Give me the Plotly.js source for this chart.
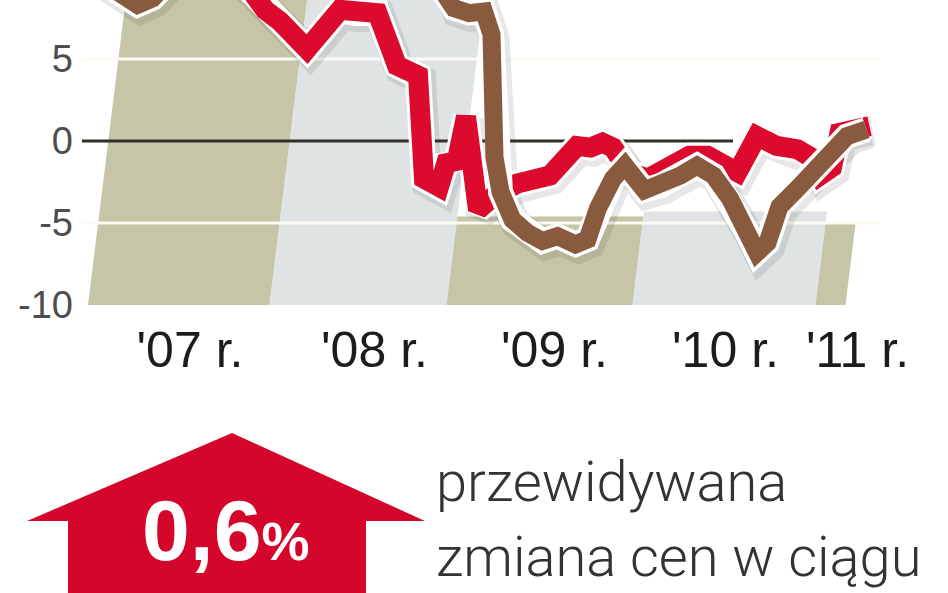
<!DOCTYPE html>
<html>
<head>
<meta charset="utf-8">
<script src="https://cdn.plot.ly/plotly-3.0.1.min.js"></script>
<style>
html,body{margin:0;padding:0;background:#fff;}
#chart{width:948px;height:593px;}
</style>
</head>
<body>
<div id="chart"></div>
<script>
// months since January 2007
const redMonths = [0, 3, 6, 8.5, 10.2, 11.0, 12.0, 13.8, 16.0, 17.0, 18.5, 19.8, 21.2, 21.6, 22.6, 23.2, 23.7, 24.4, 25.2, 26.2, 27.8, 30.0, 31.8, 32.7, 33.5, 34.2, 35.3, 36.5, 38.0, 39.3, 40.5, 41.5, 42.5, 43.8, 45.1, 46.5, 47.4, 48.0, 48.8, 49.3, 50.5, 51.3];
const redValues = [11.0, 12.5, 11.8, 10.5, 9.0, 8.0, 7.3, 5.6, 8.0, 7.8, 7.8, 4.6, 4.0, -2.3, -2.8, -1.0, -1.6, 1.5, -4.2, -3.4, -2.6, -2.1, -0.3, -0.4, -0.1, -0.4, -1.9, -2.3, -1.5, -0.9, -0.9, -1.5, -1.9, 0.3, -0.3, -0.5, -1.0, -2.1, -1.6, 0.5, 0.7, 0.9];

const brownMonths = [0, 1.5, 2.5, 3.5, 5, 8, 12, 16, 19, 21.5, 22.8, 23.6, 24.6, 25.6, 26.1, 26.3, 26.7, 27.5, 28.5, 29.5, 30.5, 31.7, 32.5, 33.2, 34.2, 35.0, 36.3, 37.4, 38.7, 39.8, 40.9, 42.0, 43.1, 43.8, 44.5, 45.3, 46.5, 47.5, 48.7, 49.8, 51.1];
const brownValues = [9.8, 9.0, 8.3, 8.7, 10.5, 13, 15, 17, 16, 13, 9.2, 8.1, 7.8, 7.9, 6.5, -1.0, -3.1, -4.8, -5.6, -6.1, -5.8, -6.3, -6.0, -4.1, -2.3, -1.5, -3.0, -2.7, -2.1, -1.5, -2.1, -3.5, -5.5, -6.8, -6.2, -4.0, -2.9, -1.9, -0.5, 0.3, 0.7];

const tickLabels = ["'07 r.", "'08 r.", "'09 r.", "'10 r.", "'11 r."];
const tickMonths = [6.0, 18.3, 30.3, 41.7, 50.5];
const yTicks = [-10, -5, 0, 5];
const yTickText = ['-10', '-5', '0', '5'];

const forecastValue = '0,6';
const forecastText = ['przewidywana', 'zmiana cen w ciągu'];

// ---- layout geometry ----
const W = 948, H = 593;
const L = 82, R = 880, T = 0, B = 305;
const xr = [-1.2, 52.0];
const yr = [-10, 8.6];
const pxPerMonth = (R - L) / (xr[1] - xr[0]);
const pxPerUnit = (B - T) / (yr[1] - yr[0]);

function px2paperX(px){ return (px - L) / (R - L); }
function px2paperY(py){ return (B - py) / (B - T); }

const RED = '#dc0a2c';
const BROWN = '#8a5a3e';
const KHAKI = '#c6c5a7';
const GREY = '#dfe3e3';

// background year bands (skewed like the printed graphic)
const bandEdges = [-0.8, 11.3, 23.1, 35.5, 47.7, 49.7];
const bandTops = [8.6, 8.6, -4.6, -4.3, -5.0];
const skew = 0.135; // months per value unit
const shapes = [];
for (let i = 0; i < bandEdges.length - 1; i++) {
  const a = bandEdges[i], b = bandEdges[i+1], top = bandTops[i];
  const dt = (top - yr[0]) * skew;
  shapes.push({
    type: 'path', xref: 'x', yref: 'y', layer: 'below',
    path: `M ${a} ${yr[0]} L ${b} ${yr[0]} L ${b + dt} ${top} L ${a + dt} ${top} Z`,
    fillcolor: i % 2 === 0 ? KHAKI : GREY, line: {width: 0}
  });
}
// white grid lines
[-5, 5].forEach(v => {
  shapes.push({type:'line', xref:'x', yref:'y', layer:'below',
    x0: xr[0], x1: xr[1], y0: v, y1: v, line:{color:'#fbfbf3', width:3}});
});
// zero line
shapes.push({type:'line', xref:'x', yref:'y', layer:'below',
  x0: xr[0], x1: 42.2, y0: 0, y1: 0, line:{color:'#2f3128', width:3}});

// arrow (pixel outline converted to paper coordinates)
const arrowPx = [[232,433],[425,521],[366,521],[366,600],[68,600],[68,521],[27,521]];
const arrowPath = arrowPx.map((p,i)=> (i===0?'M ':'L ') + px2paperX(p[0]).toFixed(4) + ' ' + px2paperY(p[1]).toFixed(4)).join(' ') + ' Z';
shapes.push({type:'path', xref:'paper', yref:'paper', layer:'above', path: arrowPath,
  fillcolor: '#d4062b', line:{width:0}});

const shadowDx = 3 / pxPerMonth, shadowDy = 4 / pxPerUnit;

function lineTrace(x, y, color, width, axes) {
  return {x: x, y: y, type:'scatter', mode:'lines', xaxis: axes[0], yaxis: axes[1],
    line:{color: color, width: width, shape:'linear'}, hoverinfo:'skip', showlegend:false};
}

const data = [
  lineTrace(redMonths, redValues, 'rgba(60,60,60,0.12)', 30, ['x2','y2']),
  lineTrace(brownMonths, brownValues, 'rgba(60,60,60,0.12)', 30, ['x2','y2']),
  lineTrace(redMonths, redValues, '#ffffff', 26, ['x3','y3']),
  lineTrace(redMonths, redValues, RED, 20, ['x3','y3']),
  lineTrace(brownMonths, brownValues, '#ffffff', 25, ['x3','y3']),
  lineTrace(brownMonths, brownValues, BROWN, 18, ['x3','y3'])
];

const layout = {
  width: W, height: H,
  margin: {l: L, r: W - R, t: T, b: H - B, pad: 0},
  paper_bgcolor: '#ffffff', plot_bgcolor: '#ffffff',
  showlegend: false,
  xaxis: {range: xr, showgrid:false, zeroline:false, showline:false, ticks:'',
    tickmode:'array', tickvals: tickMonths, ticktext: tickLabels,
    tickfont:{family:'Liberation Sans, Arial, sans-serif', size:50, color:'#1c1c1c'},
    ticklabelstandoff: 11, fixedrange:true},
  yaxis: {range: yr, showgrid:false, zeroline:false, showline:false, ticks:'',
    tickmode:'array', tickvals: yTicks, ticktext: yTickText,
    tickfont:{family:'Liberation Sans, Arial, sans-serif', size:38, color:'#4d4d4d'},
    ticklabelstandoff: 8, fixedrange:true},
  xaxis2: {overlaying:'x', range:[xr[0]-shadowDx, xr[1]-shadowDx], visible:false, fixedrange:true},
  yaxis2: {overlaying:'y', range:[yr[0]+shadowDy, yr[1]+shadowDy], visible:false, fixedrange:true},
  xaxis3: {overlaying:'x', range: xr, visible:false, fixedrange:true},
  yaxis3: {overlaying:'y', range: yr, visible:false, fixedrange:true},
  shapes: shapes,
  annotations: [
    {xref:'paper', yref:'paper', x: px2paperX(226), y: px2paperY(530), xanchor:'center', yanchor:'middle',
     showarrow:false, text: '<b>' + forecastValue + '</b><b><span style="font-size:54px">%</span></b>',
     font:{family:'Liberation Sans, Arial, sans-serif', size:86, color:'#ffffff'}},
    {xref:'paper', yref:'paper', x: px2paperX(434), y: px2paperY(482), xanchor:'left', yanchor:'middle',
     showarrow:false, text: forecastText[0],
     font:{family:'Roboto, Open Sans, sans-serif', size:56, weight:300, color:'#333333'}},
    {xref:'paper', yref:'paper', x: px2paperX(434), y: px2paperY(557), xanchor:'left', yanchor:'middle',
     showarrow:false, text: forecastText[1],
     font:{family:'Roboto, Open Sans, sans-serif', size:56, weight:300, color:'#333333'}}
  ]
};

Plotly.newPlot('chart', data, layout, {staticPlot:true, displayModeBar:false});
</script>
</body>
</html>
